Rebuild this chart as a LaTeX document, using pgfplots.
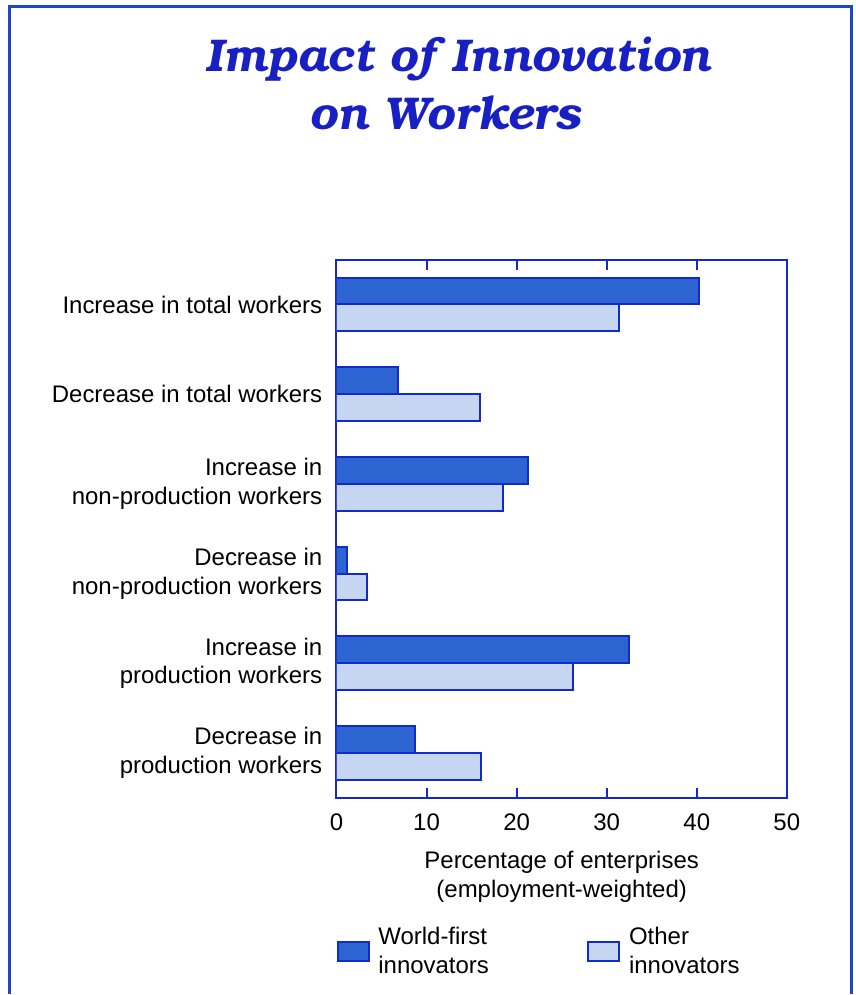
\documentclass[border=0pt]{standalone}
\usepackage{fontspec}
\setmainfont{Liberation Sans}
\newfontfamily\titlefont{texgyrebonum-bolditalic.otf}
\usepackage{pgfplots}
\pgfplotsset{compat=1.18}
\definecolor{darkbar}{RGB}{44,100,210}
\definecolor{lightbar}{RGB}{198,214,242}
\definecolor{edgeblue}{RGB}{18,42,200}
\definecolor{titleblue}{RGB}{24,32,195}
\definecolor{frameblue}{RGB}{30,70,200}
\newcommand{\lbl}{\fontsize{18}{21.6}\selectfont}
\begin{document}
\begin{tikzpicture}
\path (0pt,0pt) rectangle (642.75pt,746.25pt);
\draw[frameblue, line width=2.25pt] (7.5pt,0pt)--(7.5pt,741pt)--(639.75pt,741pt)--(639.75pt,0pt);
\node[titleblue, anchor=base, font=\titlefont\fontsize{34.5}{43.5}\selectfont] at (344.25pt,692.25pt) {Impact of Innovation};
\node[titleblue, anchor=base, font=\titlefont\fontsize{34.5}{43.5}\selectfont] at (334.5pt,648.75pt) {on Workers};
\begin{axis}[
  at={(252.75pt,147pt)}, anchor=south west,
  scale only axis, width=338.25pt, height=404.25pt,
  xbar, bar width=0.3,
  xmin=0, xmax=50, ymin=-0.5, ymax=5.5,
  axis line style={edgeblue, line width=1.5pt},
  xtick={0,10,...,50}, ytick={0,...,5},
  yticklabels={{Decrease in\\production workers},{Increase in\\production workers},{Decrease in\\non-production workers},{Increase in\\non-production workers},{Decrease in total workers},{Increase in total workers}},
  tick align=inside, major tick length=7.5pt,
  ytick style={draw=none},
  xtick style={edgeblue, line width=1.5pt},
  /pgf/number format/assume math mode=true,
  xticklabel style={font=\lbl, yshift=-8.25pt},
  yticklabel style={align=right, font=\lbl, inner sep=0pt, xshift=-10.5pt},
  xlabel={Percentage of enterprises\\(employment-weighted)},
  xlabel style={align=center, font=\lbl, yshift=-8.5pt},
  legend cell align=left,
  legend image code/.code={\draw[#1, line width=1.5pt] (0pt,-7.1pt) rectangle (23.25pt,7.1pt);},
  legend style={at={(axis description cs:0,-0.285)}, anchor=west, draw=none, fill=none,
    legend columns=2, inner sep=0pt, font=\lbl, nodes={align=left, inner sep=0pt},
    /tikz/every odd column/.append style={column sep=6.5pt},
    /tikz/every even column/.append style={column sep=74pt}},
]
\addplot[fill=darkbar, draw=edgeblue, line width=1.5pt, bar shift=0.15] coordinates {(8.75,0) (32.5,1) (1.2,2) (21.3,3) (6.8,4) (40.3,5)};
\addlegendentry{World-first\\innovators}
\addplot[fill=lightbar, draw=edgeblue, line width=1.5pt, bar shift=-0.15] coordinates {(16.0,0) (26.3,1) (3.4,2) (18.5,3) (15.9,4) (31.4,5)};
\addlegendentry{Other\\innovators}
\end{axis}
\end{tikzpicture}
\end{document}
